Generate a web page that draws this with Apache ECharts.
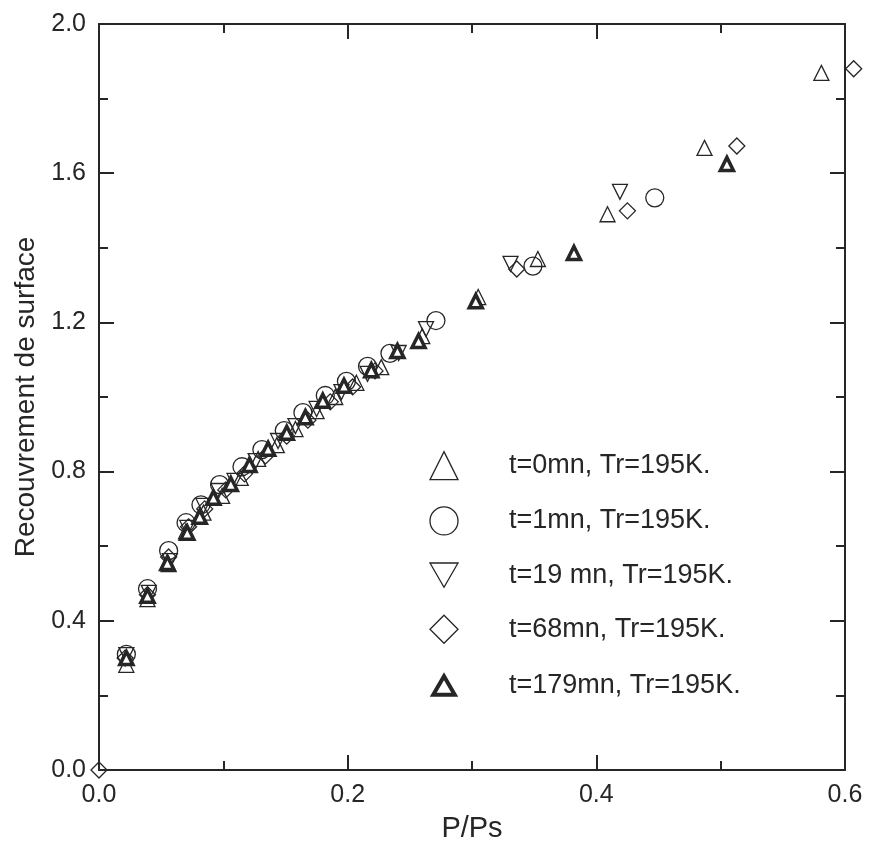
<!DOCTYPE html>
<html>
<head>
<meta charset="utf-8">
<script src="https://cdn.jsdelivr.net/npm/echarts@6/dist/echarts.min.js"></script>
<style>
  html,body{margin:0;padding:0;background:#fff;}
  #main{width:872px;height:848px;}
</style>
</head>
<body>
<div id="main"></div>
<script>
// values
var xTicks = [0.0, 0.2, 0.4, 0.6];
var yTicks = [0.0, 0.4, 0.8, 1.2, 1.6, 2.0];
var seriesNames = ['t=0mn, Tr=195K.', 't=1mn, Tr=195K.', 't=19 mn, Tr=195K.', 't=68mn, Tr=195K.', 't=179mn, Tr=195K.'];

var t0X = [0.022,0.039,0.056,0.070,0.084,0.099,0.114,0.128,0.143,0.158,0.175,0.190,0.207,0.227,0.260,0.305,0.353,0.409,0.487,0.581];
var t0Y = [0.282,0.458,0.552,0.640,0.690,0.735,0.783,0.834,0.871,0.914,0.962,1.000,1.038,1.080,1.163,1.268,1.370,1.490,1.668,1.869];

var t1X = [0.022,0.039,0.056,0.070,0.082,0.097,0.115,0.131,0.149,0.164,0.182,0.199,0.216,0.234,0.271,0.349,0.447];
var t1Y = [0.310,0.486,0.588,0.663,0.711,0.765,0.813,0.859,0.910,0.958,1.004,1.042,1.082,1.117,1.205,1.351,1.534];

var t19X = [0.022,0.040,0.057,0.071,0.084,0.096,0.109,0.126,0.144,0.158,0.175,0.195,0.216,0.241,0.263,0.331,0.419];
var t19Y = [0.308,0.475,0.560,0.649,0.708,0.748,0.775,0.828,0.882,0.922,0.968,1.013,1.062,1.118,1.182,1.357,1.550];

var t68X = [0.000,0.021,0.039,0.056,0.072,0.085,0.102,0.117,0.134,0.151,0.168,0.186,0.204,0.222,0.336,0.425,0.513,0.607];
var t68Y = [0.000,0.300,0.470,0.571,0.652,0.700,0.751,0.794,0.842,0.895,0.938,0.987,1.027,1.070,1.343,1.499,1.673,1.880];

var t179X = [0.022,0.039,0.055,0.071,0.081,0.092,0.106,0.121,0.136,0.151,0.166,0.180,0.197,0.219,0.240,0.257,0.303,0.382,0.505];
var t179Y = [0.300,0.467,0.555,0.636,0.679,0.730,0.767,0.818,0.861,0.904,0.946,0.990,1.030,1.072,1.123,1.150,1.257,1.386,1.625];

var INK = '#262626';
var FONT = '"Liberation Sans", Arial, sans-serif';
var HOLLOW = 'rgba(255,255,255,0)';

// legend icons: down triangle drawn as a path; the bold triangle padded with empty
// move-to points so it comes out smaller than the other icons, as in the scan
var ICON_DOWN = 'path://M0,0L2,0L1,1.732Z';
var ICON_BOLD = 'path://M-0.3,-0.4M2.3,2.1M0,1.732L2,1.732L1,0Z';

function pairs(xs, ys){
  var out = [];
  for(var i = 0; i < xs.length; i++){
    out.push([xs[i], ys[i]]);
  }
  return out;
}

// marker look for each series, shared by the plot and the legend
var looks = [
  {symbol: 'triangle', icon: 'triangle', size: 15, rotate: 0,   fill: HOLLOW, border: 1.3, legendBorder: 1.3},
  {symbol: 'circle',   icon: 'circle',   size: 18, rotate: 0,   fill: HOLLOW, border: 1.3, legendBorder: 1.3},
  {symbol: 'triangle', icon: ICON_DOWN,  size: 15, rotate: 180, fill: HOLLOW, border: 1.3, legendBorder: 1.3},
  {symbol: 'diamond',  icon: 'diamond',  size: 16, rotate: 0,   fill: HOLLOW, border: 1.3, legendBorder: 1.3},
  {symbol: 'triangle', icon: ICON_BOLD,  size: 13, rotate: 0,   fill: '#fff', border: 3.5, legendBorder: 4}
];

function makeSeries(idx, xs, ys){
  var lk = looks[idx];
  return {
    name: seriesNames[idx],
    type: 'scatter',
    clip: false,
    symbol: lk.symbol,
    symbolSize: lk.size,
    symbolRotate: lk.rotate,
    itemStyle: {color: lk.fill, borderColor: INK, borderWidth: lk.border, opacity: 1},
    emphasis: {disabled: true},
    data: pairs(xs, ys)
  };
}

function legendItems(){
  var out = [];
  for(var i = 0; i < seriesNames.length; i++){
    var lk = looks[i];
    out.push({
      name: seriesNames[i],
      icon: lk.icon,
      itemStyle: {color: lk.fill, borderColor: INK, borderWidth: lk.legendBorder}
    });
  }
  return out;
}

function frameAxis(pos, ticks, isLabel){
  var step = ticks[1] - ticks[0];
  return {
    type: 'value',
    position: pos,
    min: ticks[0],
    max: ticks[ticks.length - 1],
    interval: step,
    axisLine: {show: true, onZero: false, lineStyle: {color: INK, width: 2}},
    axisTick: {show: true, inside: true, length: 15, lineStyle: {color: INK, width: 2}},
    minorTick: {show: true, splitNumber: 2, length: 9, lineStyle: {color: INK, width: 2}},
    splitLine: {show: false},
    axisLabel: {
      show: isLabel,
      color: INK,
      fontFamily: FONT,
      fontSize: 25,
      margin: 13,
      formatter: function(v){ return v.toFixed(1); }
    }
  };
}

var chart = echarts.init(document.getElementById('main'), null, {renderer: 'canvas'});

var xBottom = frameAxis('bottom', xTicks, true);
xBottom.name = 'P/Ps';
xBottom.nameLocation = 'middle';
xBottom.nameGap = 44;
xBottom.nameTextStyle = {color: INK, fontFamily: FONT, fontSize: 29};
var xTop = frameAxis('top', xTicks, false);

var yLeft = frameAxis('left', yTicks, true);
yLeft.name = 'Recouvrement de surface';
yLeft.nameLocation = 'middle';
yLeft.nameGap = 53;
yLeft.nameTextStyle = {color: INK, fontFamily: FONT, fontSize: 28};
var yRight = frameAxis('right', yTicks, false);

chart.setOption({
  animation: false,
  backgroundColor: '#fff',
  grid: {left: 99, right: 27, top: 24, bottom: 78},
  xAxis: [xBottom, xTop],
  yAxis: [yLeft, yRight],
  legend: {
    orient: 'vertical',
    left: 423,
    top: 446,
    itemWidth: 28,
    itemHeight: 28,
    itemGap: 26,
    selectedMode: false,
    data: legendItems(),
    textStyle: {color: INK, fontFamily: FONT, fontSize: 27, padding: [0, 0, 0, 46]}
  },
  series: [
    makeSeries(0, t0X, t0Y),
    makeSeries(1, t1X, t1Y),
    makeSeries(2, t19X, t19Y),
    makeSeries(3, t68X, t68Y),
    makeSeries(4, t179X, t179Y)
  ]
});
</script>
</body>
</html>
